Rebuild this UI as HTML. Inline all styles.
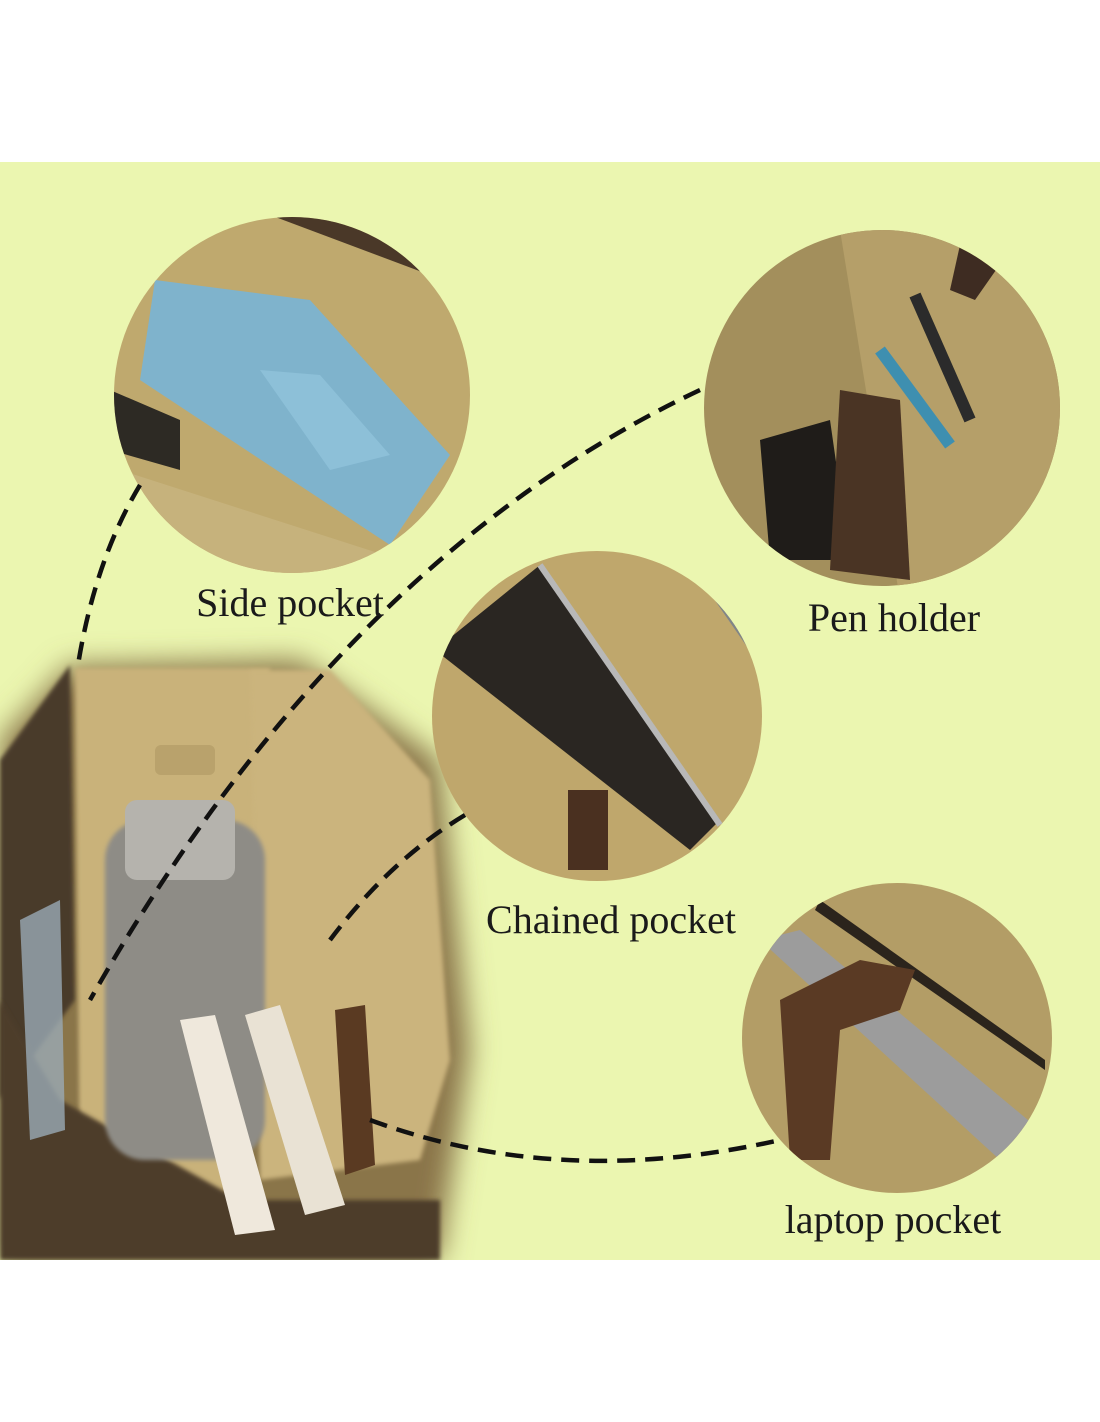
<!DOCTYPE html>
<html><head><meta charset="utf-8"><style>
html,body{margin:0;padding:0;background:#fff;}
body{width:1100px;height:1422px;position:relative;overflow:hidden;}
.t{position:absolute;font-family:"Liberation Serif",serif;font-size:40px;color:#1a1a1a;white-space:nowrap;transform:translateX(-50%);}
</style></head><body>
<svg width="1100" height="1422" style="position:absolute;left:0;top:0">
<defs>
<filter id="b" x="-20%" y="-20%" width="140%" height="140%"><feGaussianBlur stdDeviation="14"/></filter>
<filter id="s"><feGaussianBlur stdDeviation="2"/></filter>
<clipPath id="c1"><circle cx="292" cy="395" r="178"/></clipPath>
<clipPath id="c2"><circle cx="882" cy="408" r="178"/></clipPath>
<clipPath id="c3"><circle cx="597" cy="716" r="165"/></clipPath>
<clipPath id="c4"><circle cx="897" cy="1038" r="155"/></clipPath>
<clipPath id="panel"><rect x="0" y="162" width="1100" height="1098"/></clipPath>
</defs>
<rect x="0" y="162" width="1100" height="1098" fill="#ebf6b0"/>
<g clip-path="url(#panel)">
<g filter="url(#b)">
<path d="M0 740 L70 665 L300 660 L440 760 L470 1050 L440 1260 L0 1260 Z" fill="#8a7448"/>
</g>
<path d="M0 760 L70 665 L75 1000 L0 1100 Z" fill="#4a3a2a" filter="url(#s)"/>
<path d="M75 668 L270 668 L260 800 L245 1200 L80 1200 Z" fill="#c9b27a" filter="url(#s)"/>
<path d="M250 670 L330 670 L430 780 L450 1060 L420 1160 L260 1180 Z" fill="#cbb47d" filter="url(#s)"/>
<path d="M0 1000 L60 1100 L240 1200 L440 1200 L440 1260 L0 1260 Z" fill="#4e3d2b" filter="url(#s)"/>
<rect x="105" y="820" width="160" height="340" rx="40" fill="#8e8c86" filter="url(#s)"/>
<rect x="125" y="800" width="110" height="80" rx="12" fill="#b5b3ad"/>
<path d="M180 1020 L215 1015 L275 1230 L235 1235 Z" fill="#efe8dc"/>
<path d="M245 1015 L280 1005 L345 1205 L305 1215 Z" fill="#e9e2d4"/>
<path d="M335 1010 L365 1005 L375 1165 L345 1175 Z" fill="#5a3a22"/>
<rect x="155" y="745" width="60" height="30" rx="6" fill="#b9a26c"/>
<path d="M20 920 L60 900 L65 1130 L30 1140 Z" fill="#9aaab5" opacity=".8"/>
</g>
<g clip-path="url(#c1)">
<rect x="100" y="200" width="400" height="400" fill="#bfa96e"/>
<path d="M270 215 L470 290 L470 200 Z" fill="#4a3828"/>
<path d="M155 280 L310 300 L450 455 L390 545 L140 380 Z" fill="#7fb3cc"/>
<path d="M260 370 L320 375 L390 455 L330 470 Z" fill="#8dc0d8"/>
<path d="M110 390 L180 420 L180 470 L110 450 Z" fill="#2d2a24"/>
<path d="M120 470 L400 560 L300 600 L100 580 Z" fill="#c6b27c"/>
</g>
<g clip-path="url(#c2)">
<rect x="700" y="225" width="370" height="370" fill="#a38f5c"/>
<path d="M840 230 L1000 230 L1060 330 L1060 600 L900 600 Z" fill="#b59f69"/>
<path d="M760 440 L830 420 L850 560 L770 560 Z" fill="#1f1c19"/>
<path d="M840 390 L900 400 L910 580 L830 570 Z" fill="#4a3424"/>
<line x1="915" y1="295" x2="970" y2="420" stroke="#2b2b2b" stroke-width="12"/>
<line x1="880" y1="350" x2="950" y2="445" stroke="#3e8fb0" stroke-width="12"/>
<path d="M960 245 L1010 250 L975 300 L950 290 Z" fill="#3e2c22"/>
</g>
<g clip-path="url(#c3)">
<rect x="425" y="545" width="340" height="340" fill="#bfa76c"/>
<path d="M680 550 L770 550 L770 680 Z" fill="#808588"/>
<path d="M435 650 L540 565 L720 820 L690 850 Z" fill="#2a2622"/>
<line x1="540" y1="565" x2="720" y2="825" stroke="#b8b8b8" stroke-width="6"/>
<rect x="568" y="790" width="40" height="80" fill="#4a3020"/>
</g>
<g clip-path="url(#c4)">
<rect x="740" y="880" width="320" height="320" fill="#b39d66"/>
<path d="M760 940 L800 930 L1040 1130 L1000 1160 Z" fill="#9c9c9c"/>
<path d="M820 900 L1045 1060 L1045 1070 L815 910 Z" fill="#2b241c"/>
<path d="M780 1000 L860 960 L915 970 L900 1010 L840 1030 L830 1160 L790 1160 Z" fill="#5a3a24"/>
</g>
<g fill="none" stroke="#111" stroke-width="4.5" stroke-dasharray="18 10">
<path d="M140 485 Q95 560 78 665"/>
<path d="M700 390 Q340 560 90 1000"/>
<path d="M465 815 Q390 860 330 940"/>
<path d="M370 1120 Q560 1190 780 1140"/>
</g>
</svg>
<div class="t" style="left:290px;top:579px">Side pocket</div>
<div class="t" style="left:894px;top:594px">Pen holder</div>
<div class="t" style="left:611px;top:896px">Chained pocket</div>
<div class="t" style="left:893px;top:1196px">laptop pocket</div>
</body></html>
